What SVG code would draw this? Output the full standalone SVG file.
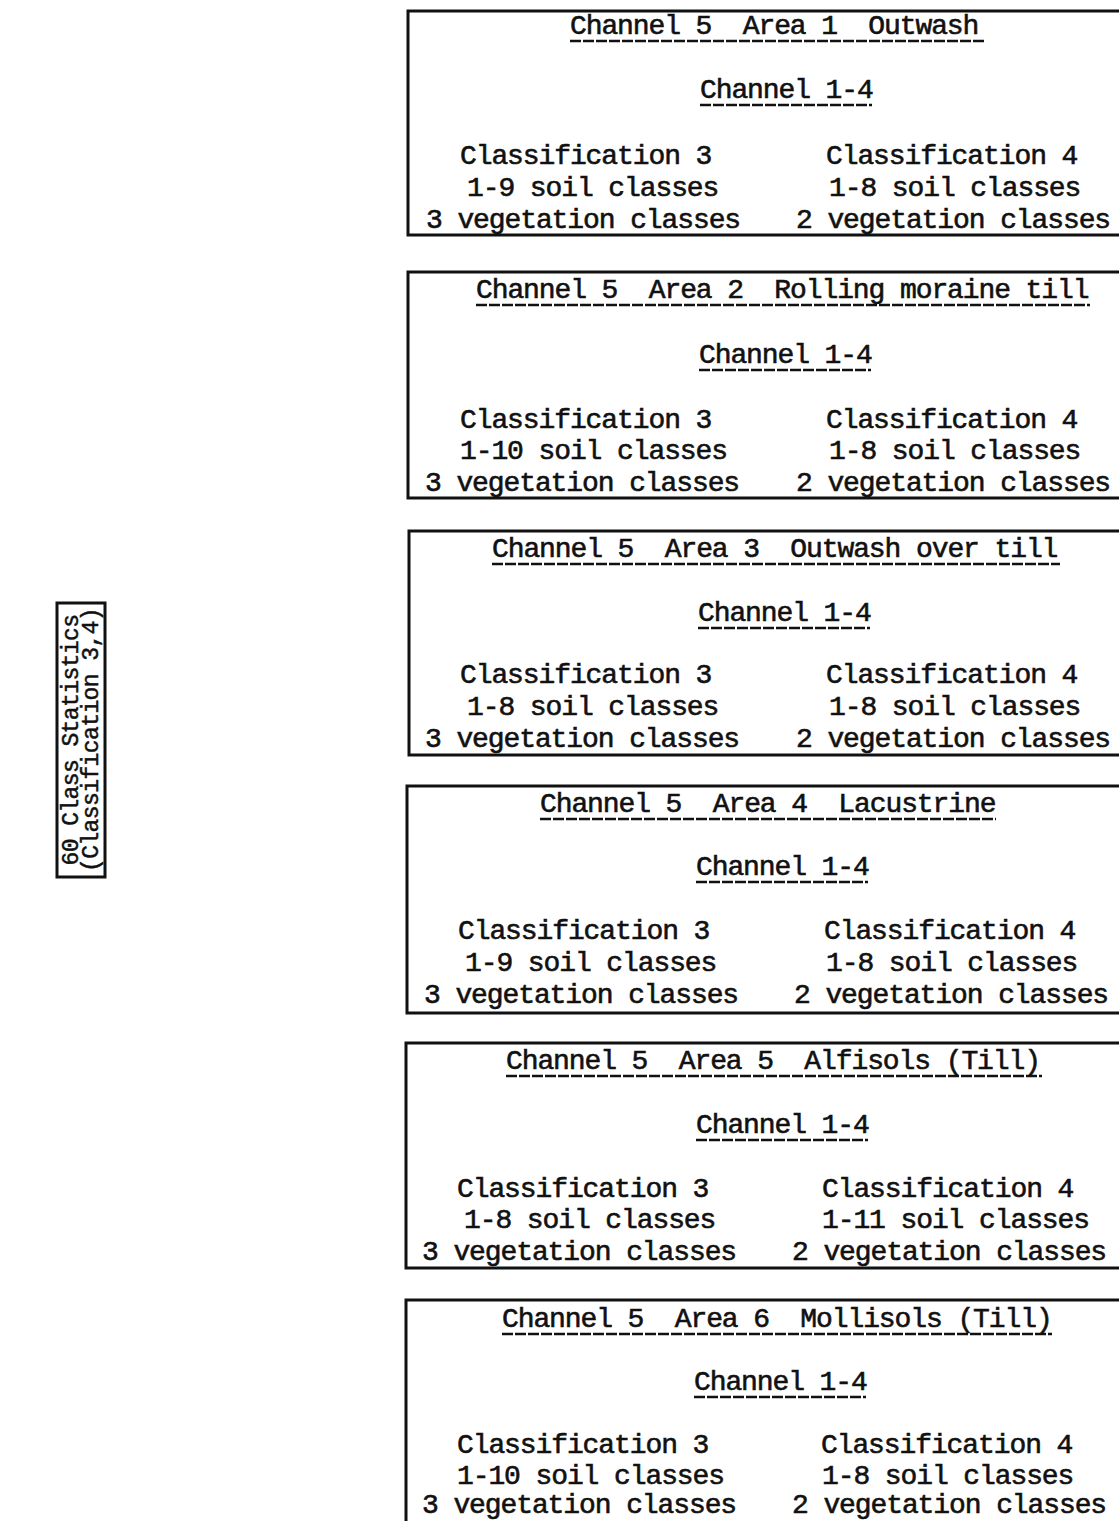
<svg xmlns="http://www.w3.org/2000/svg" width="1119" height="1521" viewBox="0 0 1119 1521">
  <style>
    .bg { fill: #ffffff; }
    .box { fill: none; stroke: #111; stroke-width: 3; }
    .t { font-family: "Liberation Mono", "Courier New", monospace; font-size: 28px; letter-spacing: -1.1px; fill: #111; stroke: #111; stroke-width: 0.6; white-space: pre; }
    .side { font-family: "Liberation Mono", "Courier New", monospace; font-size: 23px; letter-spacing: -0.6px; fill: #111; stroke: #111; stroke-width: 0.5; white-space: pre; }
    .ul { stroke: #111; stroke-width: 2.5; stroke-dasharray: 11 2; fill: none; }
  </style>
  <rect class="bg" x="0" y="0" width="1119" height="1521"/>

  <!-- summary box, text set vertically -->
  <g id="summary">
    <rect class="box" x="57" y="603" width="48" height="274"/>
    <text class="side" transform="translate(78,740) rotate(-90)" text-anchor="middle">60 Class Statistics</text>
    <text class="side" transform="translate(98,740) rotate(-90)" text-anchor="middle">(Classification 3,4)</text>
  </g>

  <g id="connectors"></g>

  <!-- area boxes (right side runs past the page edge) -->
  <g id="area1">
    <rect class="box" x="408" y="11" width="730" height="224"/>
    <text class="t" x="570" y="34">Channel 5  Area 1  Outwash</text>
    <line class="ul" x1="570" y1="41" x2="986" y2="41"/>
    <text class="t" x="700" y="98">Channel 1-4</text>
    <line class="ul" x1="700" y1="105" x2="872" y2="105"/>
    <text class="t" x="460" y="164">Classification 3</text>
    <text class="t" x="467" y="196">1-9 soil classes</text>
    <text class="t" x="426" y="228">3 vegetation classes</text>
    <text class="t" x="826" y="164">Classification 4</text>
    <text class="t" x="829" y="196">1-8 soil classes</text>
    <text class="t" x="796" y="228">2 vegetation classes</text>
  </g>

  <g id="area2">
    <rect class="box" x="408" y="272" width="730" height="226"/>
    <text class="t" x="476" y="298">Channel 5  Area 2  Rolling moraine till</text>
    <line class="ul" x1="476" y1="305" x2="1090" y2="305"/>
    <text class="t" x="699" y="363">Channel 1-4</text>
    <line class="ul" x1="699" y1="370" x2="871" y2="370"/>
    <text class="t" x="460" y="428">Classification 3</text>
    <text class="t" x="460" y="459">1-10 soil classes</text>
    <text class="t" x="425" y="491">3 vegetation classes</text>
    <text class="t" x="826" y="428">Classification 4</text>
    <text class="t" x="829" y="459">1-8 soil classes</text>
    <text class="t" x="796" y="491">2 vegetation classes</text>
  </g>

  <g id="area3">
    <rect class="box" x="409" y="531" width="730" height="224"/>
    <text class="t" x="492" y="557">Channel 5  Area 3  Outwash over till</text>
    <line class="ul" x1="492" y1="564" x2="1060" y2="564"/>
    <text class="t" x="698" y="621">Channel 1-4</text>
    <line class="ul" x1="698" y1="628" x2="870" y2="628"/>
    <text class="t" x="460" y="683">Classification 3</text>
    <text class="t" x="467" y="715">1-8 soil classes</text>
    <text class="t" x="425" y="747">3 vegetation classes</text>
    <text class="t" x="826" y="683">Classification 4</text>
    <text class="t" x="829" y="715">1-8 soil classes</text>
    <text class="t" x="796" y="747">2 vegetation classes</text>
  </g>

  <g id="area4">
    <rect class="box" x="407" y="786" width="730" height="227"/>
    <text class="t" x="540" y="812">Channel 5  Area 4  Lacustrine</text>
    <line class="ul" x1="540" y1="819" x2="996" y2="819"/>
    <text class="t" x="696" y="875">Channel 1-4</text>
    <line class="ul" x1="696" y1="882" x2="868" y2="882"/>
    <text class="t" x="458" y="939">Classification 3</text>
    <text class="t" x="465" y="971">1-9 soil classes</text>
    <text class="t" x="424" y="1003">3 vegetation classes</text>
    <text class="t" x="824" y="939">Classification 4</text>
    <text class="t" x="826" y="971">1-8 soil classes</text>
    <text class="t" x="794" y="1003">2 vegetation classes</text>
  </g>

  <g id="area5">
    <rect class="box" x="406" y="1043" width="730" height="225"/>
    <text class="t" x="506" y="1069">Channel 5  Area 5  Alfisols (Till)</text>
    <line class="ul" x1="506" y1="1076" x2="1042" y2="1076"/>
    <text class="t" x="696" y="1133">Channel 1-4</text>
    <line class="ul" x1="696" y1="1140" x2="868" y2="1140"/>
    <text class="t" x="457" y="1197">Classification 3</text>
    <text class="t" x="464" y="1228">1-8 soil classes</text>
    <text class="t" x="422" y="1260">3 vegetation classes</text>
    <text class="t" x="822" y="1197">Classification 4</text>
    <text class="t" x="822" y="1228">1-11 soil classes</text>
    <text class="t" x="792" y="1260">2 vegetation classes</text>
  </g>

  <g id="area6">
    <rect class="box" x="406" y="1300" width="730" height="240"/>
    <text class="t" x="502" y="1327">Channel 5  Area 6  Mollisols (Till)</text>
    <line class="ul" x1="502" y1="1334" x2="1052" y2="1334"/>
    <text class="t" x="694" y="1390">Channel 1-4</text>
    <line class="ul" x1="694" y1="1397" x2="866" y2="1397"/>
    <text class="t" x="457" y="1453">Classification 3</text>
    <text class="t" x="457" y="1484">1-10 soil classes</text>
    <text class="t" x="422" y="1513">3 vegetation classes</text>
    <text class="t" x="821" y="1453">Classification 4</text>
    <text class="t" x="822" y="1484">1-8 soil classes</text>
    <text class="t" x="792" y="1513">2 vegetation classes</text>
  </g>
</svg>
